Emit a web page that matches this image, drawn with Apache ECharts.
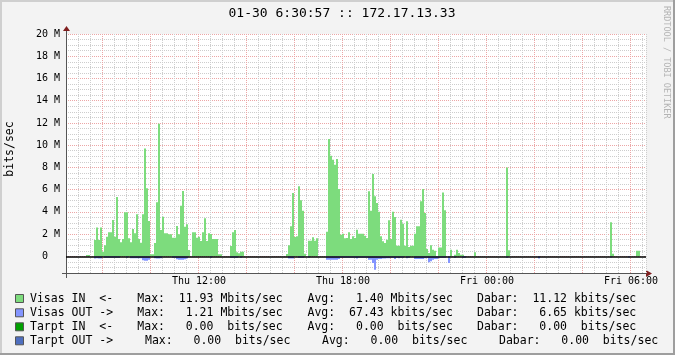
<!DOCTYPE html>
<html><head><meta charset="utf-8">
<script src="https://cdn.jsdelivr.net/npm/echarts@6.0.0/dist/echarts.min.js"></script>
<style>html,body{margin:0;padding:0;background:#f3f3f3}#c{width:675px;height:355px}</style>
</head><body><div id="c"></div>
<script>
// time base: first 5-minute step starts Thu 06:30
const startMinute = 390;
const stepMinutes = 5;

// Visas IN (Mbit/s), one value per 5-minute step
const visasIn = [
0,0,0,0,0,0,0,0,0,0,
0.12,0.12,0,0,1.47,2.6,1.47,2.6,0.42,1.0,
1.77,2.16,2.16,3.27,1.77,5.34,1.56,1.26,1.56,3.96,
3.96,1.62,1.26,2.46,2.07,3.78,1.56,1.23,3.78,9.71,
6.12,3.18,0.18,0.18,1.2,4.86,11.93,2.37,3.57,2.07,
2.07,1.98,1.98,1.68,1.68,2.73,1.98,4.56,5.88,2.67,
2.88,0.57,0,2.16,2.16,1.68,1.77,1.38,2.16,3.42,
1.38,2.07,2.0,1.56,1.56,1.56,0.18,0.18,0,0,
0,0,0.93,2.16,2.37,0.36,0.27,0.42,0.42,0,
0,0,0,0,0,0,0,0,0,0,
0,0,0,0,0,0,0,0,0,0,
0.2,1.0,2.7,5.7,1.74,1.8,6.3,5.05,4.1,0.24,
0,1.41,1.41,1.71,1.41,1.62,0,0,0,0,
2.2,10.55,9.05,8.69,8.24,8.75,6.06,1.95,2.04,1.62,
1.65,2.16,1.56,1.8,1.65,2.4,2.04,2.04,2.04,1.86,
1.65,5.85,4.1,7.4,5.4,4.8,4.0,1.8,1.35,1.2,
1.5,3.24,1.56,4.0,3.54,0.96,0.96,3.3,2.94,0.96,
3.15,0.84,0.96,0.96,2.04,2.7,2.7,4.95,6.06,3.9,
0.66,0.3,1.0,0.6,0.5,0,0.8,0.8,5.75,4.14,
0,0,0.6,0,0.15,0.6,0.3,0.15,0.15,0,
0,0,0,0,0.36,0,0,0,0,0,
0,0,0,0,0,0,0,0,0,0,
8.0,0.54,0,0,0,0,0,0,0,0,
0,0,0,0,0,0,0,0,0,0,
0,0,0,0,0,0,0,0,0,0,
0,0,0,0,0,0,0,0,0,0,
0,0,0,0,0,0,0,0,0,0,
0,0,3.06,0.24,0,0,0,0,0,0,
0,0,0,0,0,0.5,0.5,0,0,0
];

// Visas OUT (Mbit/s), drawn below the zero line
const visasOut = [
0,0,0,0,0,0,0,0,0,0,
0,0,0,0,0.2,0.18,0.2,0.2,0,0.12,
0.12,0.12,0.12,0.12,0.12,0.12,0.12,0,0,0,
0.12,0,0.18,0.18,0.18,0.18,0.18,0.18,0.36,0.39,
0.39,0.3,0,0,0.18,0.2,0.2,0.18,0,0,
0,0,0,0.12,0.12,0.27,0.3,0.3,0.3,0.27,
0.2,0,0,0,0,0,0,0,0,0,
0,0,0.12,0,0,0,0,0,0,0,
0,0,0.12,0.12,0.12,0.12,0,0.12,0,0,
0,0,0,0,0,0,0,0,0,0,
0,0,0,0,0,0,0,0,0,0,
0,0.2,0.2,0.2,0,0,0.12,0.12,0.12,0,
0,0.1,0,0,0,0,0,0,0,0,
0.3,0.3,0.3,0.3,0.3,0.3,0.24,0.12,0.12,0.12,
0.12,0.12,0.12,0.12,0.12,0.2,0.12,0.12,0.12,0.12,
0.12,0.3,0.3,0.6,1.21,0.3,0.24,0.24,0.2,0.2,
0.18,0.18,0.12,0.12,0.24,0.12,0.18,0.12,0.12,0,
0.18,0.12,0,0,0.24,0.24,0.24,0.24,0.24,0.18,
0.12,0.54,0.45,0.3,0.24,0.24,0.18,0.12,0.12,0.12,
0,0.6,0,0,0.12,0,0,0,0.12,0.12,
0,0,0,0,0,0,0,0,0,0,
0,0,0,0,0,0,0,0,0,0,
0.12,0,0,0,0,0,0,0,0,0,
0,0,0,0,0,0,0.2,0,0,0,
0,0,0,0,0,0,0,0,0,0,
0,0,0,0,0,0,0,0,0,0,
0,0,0,0,0,0,0,0,0,0,
0,0,0.1,0,0,0,0,0,0,0,
0,0.1,0,0,0,0,0,0,0,0
];

const tickLabels = ['Thu 12:00', 'Thu 18:00', 'Fri 00:00', 'Fri 06:00'];
const titleText = '01-30 6:30:57 :: 172.17.13.33';
const unitText = 'bits/sec';
const creditText = 'RRDTOOL / TOBI OETIKER';

const legendNames = ['Visas IN  <-', 'Visas OUT ->', 'Tarpt IN  <-', 'Tarpt OUT ->'];
const legendColors = ['#7ddc7d', '#8495ff', '#00a000', '#4f6fbf'];
const maxVals = [11.93, 1.21, 0, 0];
const maxPrefix = ['M', 'M', ' ', ' '];
const avgVals = [1.40, 67.43, 0, 0];
const avgPrefix = ['M', 'k', ' ', ' '];
const curVals = [11.12, 6.65, 0, 0];
const curPrefix = ['k', 'k', ' ', ' '];

const IN_COLOR = '#7ddc7d';
const OUT_COLOR = '#8495ff';
const MINOR = '#cdcdcd';
const MAJOR = '#eca6a6';
const MONO = '"DejaVu Sans Mono", monospace';

const pad2 = n => String(n).padStart(2, '0');
const minuteOf = i => (startMinute + stepMinutes * i);
const categories = visasIn.map((_, i) => {
  const t = minuteOf(i);
  const day = t < 1440 ? 'Thu' : 'Fri';
  const m = t % 1440;
  return day + ' ' + pad2(Math.floor(m / 60)) + ':' + pad2(m % 60);
});

const fmt = v => v.toFixed(2).padStart(6, ' ');

const graphic = [];
// frame shading
graphic.push({type:'rect', shape:{x:0,y:0,width:675,height:2}, style:{fill:'#cfcfcf'}, silent:true});
graphic.push({type:'rect', shape:{x:0,y:0,width:2,height:355}, style:{fill:'#cfcfcf'}, silent:true});
graphic.push({type:'rect', shape:{x:0,y:353,width:675,height:2}, style:{fill:'#9e9e9e'}, silent:true});
graphic.push({type:'rect', shape:{x:673,y:0,width:2,height:355}, style:{fill:'#9e9e9e'}, silent:true});
// axis extensions and arrows
graphic.push({type:'line', shape:{x1:66.5,y1:30,x2:66.5,y2:34}, style:{stroke:'#555',lineWidth:1}, silent:true});
graphic.push({type:'line', shape:{x1:66.5,y1:273,x2:66.5,y2:278}, style:{stroke:'#555',lineWidth:1}, silent:true});
graphic.push({type:'line', shape:{x1:62,y1:273.5,x2:66,y2:273.5}, style:{stroke:'#555',lineWidth:1}, silent:true});
graphic.push({type:'polygon', shape:{points:[[63,31],[70,31],[66.5,26]]}, style:{fill:'#801f1f'}, silent:true});
graphic.push({type:'polygon', shape:{points:[[646,270],[646,277],[652,273.5]]}, style:{fill:'#801f1f'}, silent:true});
// title
graphic.push({type:'text', x:342, y:14, style:{text:titleText, fontSize:13, fontFamily:MONO, fill:'#000', align:'center', verticalAlign:'middle', textAlign:'center', textVerticalAlign:'middle'}, silent:true});
// unit label
graphic.push({type:'text', x:10, y:149, rotation:Math.PI/2, style:{text:unitText, fontSize:11.5, fontFamily:MONO, fill:'#000', align:'center', verticalAlign:'middle', textAlign:'center', textVerticalAlign:'middle'}, silent:true});
// credit
graphic.push({type:'text', x:666.5, y:6, rotation:-Math.PI/2, style:{text:creditText, fontSize:8.5, fontFamily:MONO, fill:'#b4b4b4', align:'left', verticalAlign:'middle', textAlign:'left', textVerticalAlign:'middle'}, silent:true});

// legend rows
const rowY = [299, 313.3, 327.3, 341.3];
const segX = [[30,137.3,307.5,477],[30,137.3,307.5,477],[30,137.3,307.5,477],[30,145,322,499]];
legendNames.forEach((name, r) => {
  const y = rowY[r];
  graphic.push({type:'rect', shape:{x:15.5,y:y-4.5,width:8,height:8}, style:{fill:legendColors[r], stroke:'#555', lineWidth:1}, silent:true});
  const segs = [
    name,
    'Max: ' + fmt(maxVals[r]) + ' ' + maxPrefix[r] + 'bits/sec',
    'Avg: ' + fmt(avgVals[r]) + ' ' + avgPrefix[r] + 'bits/sec',
    'Dabar: ' + fmt(curVals[r]) + ' ' + curPrefix[r] + 'bits/sec'
  ];
  segs.forEach((s, k) => {
    graphic.push({type:'text', x:segX[r][k], y:y, style:{text:s, fontSize:11.5, fontFamily:MONO, fill:'#000', align:'left', verticalAlign:'middle', textAlign:'left', textVerticalAlign:'middle'}, silent:true});
  });
});

const nSteps = visasIn.length;
const GRID_COLORS = [MINOR, MINOR, MINOR, MAJOR]; // every 4th line (2 h / 2 M) is major

const chart = echarts.init(document.getElementById('c'), null, {renderer:'canvas'});
chart.setOption({
  animation: false,
  backgroundColor: '#f3f3f3',
  grid: {left:66, top:34, width:580, height:239, show:true, backgroundColor:'#ffffff', borderWidth:0, containLabel:false},
  xAxis: [{
    type:'category', data:categories, boundaryGap:true, position:'bottom',
    axisLine:{show:true, onZero:false, lineStyle:{color:'#555', width:1}},
    axisTick:{show:false},
    axisLabel:{interval:(idx, val) => tickLabels.includes(val), fontFamily:MONO, fontSize:10, color:'#000', margin:3},
    splitLine:{show:false}
  }, {
    // hidden step-index axis used only for the time grid (6 steps = 30 min)
    type:'value', min:0, max:nSteps, interval:6, position:'bottom',
    axisLine:{show:false}, axisTick:{show:false}, axisLabel:{show:false},
    splitLine:{show:true, lineStyle:{color:GRID_COLORS, width:1, type:[1,1]}}
  }],
  yAxis: [{
    type:'value', min:-1.5, max:20, interval:0.5,
    axisLine:{show:true, lineStyle:{color:'#555', width:1}},
    axisTick:{show:false},
    axisLabel:{fontFamily:MONO, fontSize:10, color:'#000', margin:6,
      formatter: v => (v >= 0 && Math.abs(v % 2) < 1e-9) ? (v === 0 ? '0  ' : v + ' M') : ''},
    splitLine:{show:true, lineStyle:{color:GRID_COLORS, width:1, type:[1,1]}}
  }],
  series: [{
    name:'Visas IN', type:'bar', data:visasIn, barWidth:'100%', barGap:'-100%',
    itemStyle:{color:IN_COLOR}, silent:true
  }, {
    name:'Visas OUT', type:'bar', data:visasOut.map(v => -v), barWidth:'100%', barGap:'-100%',
    itemStyle:{color:OUT_COLOR}, silent:true,
    markLine:{silent:true, symbol:['none','none'], label:{show:false}, lineStyle:{color:'#000', width:1.5, type:'solid'}, data:[{yAxis:0}]}
  }],
  graphic: graphic
});
</script>
</body></html>
